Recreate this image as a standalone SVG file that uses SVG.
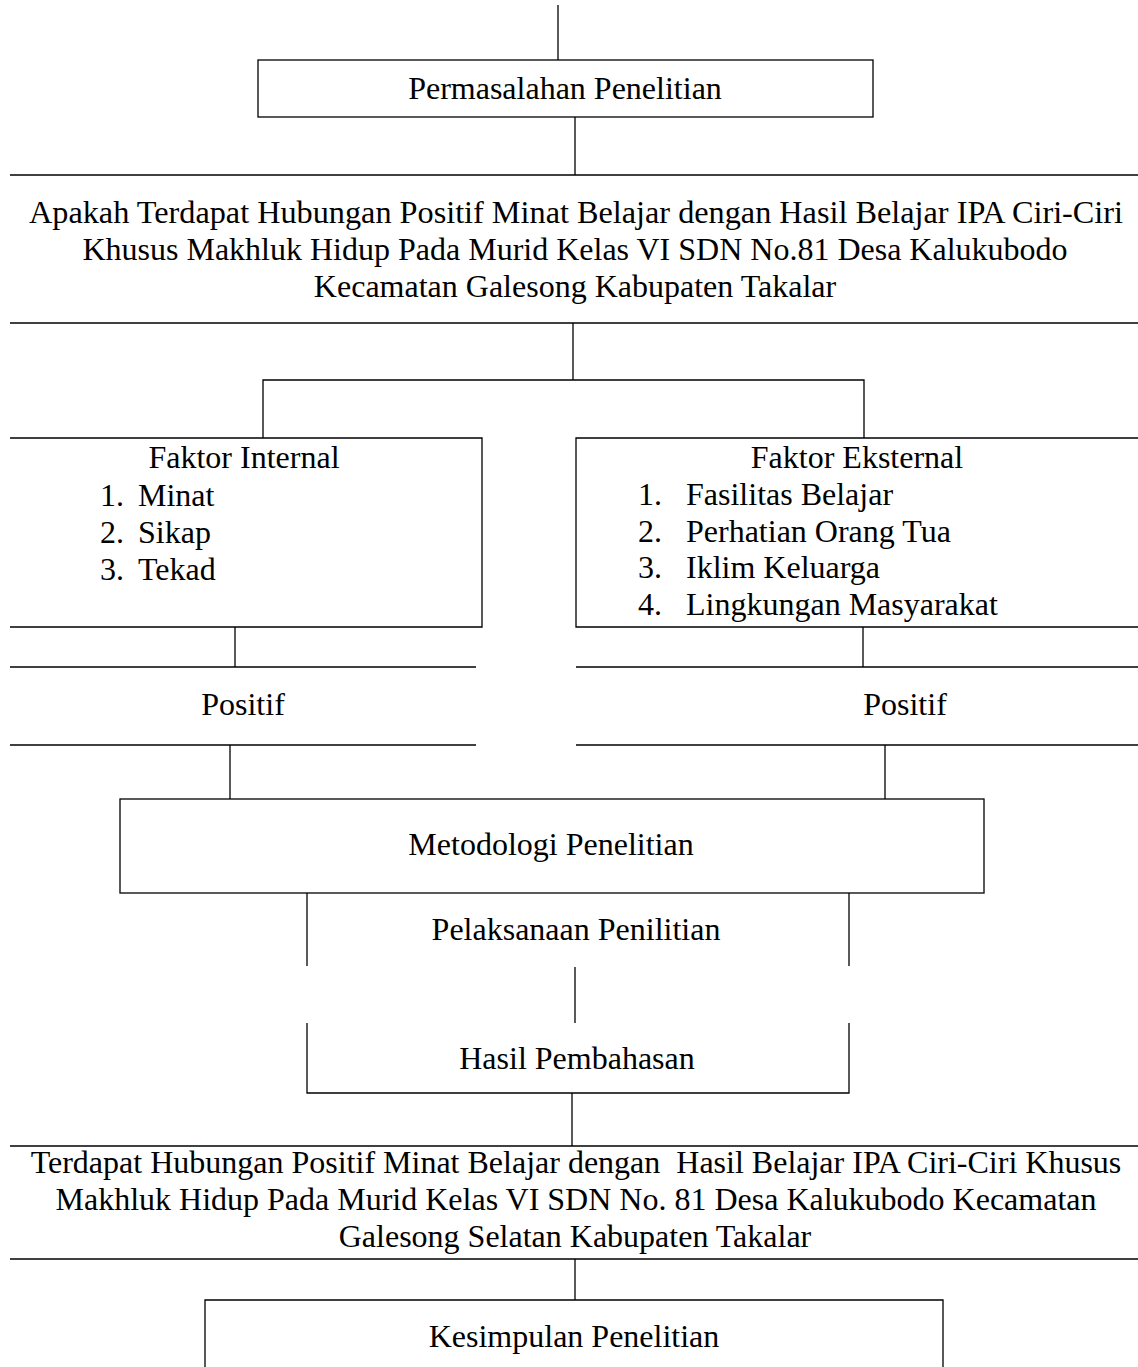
<svg xmlns="http://www.w3.org/2000/svg" width="1138" height="1367" viewBox="0 0 1138 1367">
<style>
text{font-family:"Liberation Serif","Times New Roman",serif;font-size:32px;fill:#000}
.c{text-anchor:middle}
.ln{stroke:#000;stroke-width:1.3;fill:none}
</style>
<rect x="0" y="0" width="1138" height="1367" fill="#fff"/>
<g id="connectors" class="ln">
<line x1="558" y1="5" x2="558" y2="60"/>
<line x1="575" y1="117" x2="575" y2="175"/>
<line x1="573" y1="323" x2="573" y2="380"/>
<polyline points="263,438 263,380 864,380 864,438"/>
<line x1="235" y1="627" x2="235" y2="667"/>
<line x1="863" y1="627" x2="863" y2="667"/>
<line x1="230" y1="745" x2="230" y2="799"/>
<line x1="885" y1="745" x2="885" y2="799"/>
<line x1="575" y1="967" x2="575" y2="1023"/>
<line x1="572" y1="1093" x2="572" y2="1146"/>
<line x1="575" y1="1259" x2="575" y2="1300"/>
</g>
<g id="permasalahan">
<rect class="ln" x="258" y="60" width="615" height="57"/>
<text class="c" x="565" y="99">Permasalahan Penelitian</text>
</g>
<g id="pertanyaan">
<line class="ln" x1="10" y1="175" x2="1138" y2="175"/>
<text class="c" x="576" y="223" textLength="1094" lengthAdjust="spacingAndGlyphs">Apakah Terdapat Hubungan Positif Minat Belajar dengan Hasil Belajar IPA Ciri-Ciri</text>
<text class="c" x="575" y="260">Khusus Makhluk Hidup Pada Murid Kelas VI SDN No.81 Desa Kalukubodo</text>
<text class="c" x="575" y="297">Kecamatan Galesong Kabupaten Takalar</text>
<line class="ln" x1="10" y1="323" x2="1138" y2="323"/>
</g>
<g id="faktor-internal">
<polyline class="ln" points="10,438 482,438 482,627 10,627"/>
<text class="c" x="244" y="468">Faktor Internal</text>
<text x="100" y="506">1.</text><text x="138" y="506">Minat</text>
<text x="100" y="543">2.</text><text x="138" y="543">Sikap</text>
<text x="100" y="580">3.</text><text x="138" y="580">Tekad</text>
</g>
<g id="faktor-eksternal">
<polyline class="ln" points="1138,438 576,438 576,627 1138,627"/>
<text class="c" x="857" y="468">Faktor Eksternal</text>
<text x="638" y="505">1.</text><text x="686" y="505">Fasilitas Belajar</text>
<text x="638" y="542">2.</text><text x="686" y="542">Perhatian Orang Tua</text>
<text x="638" y="578">3.</text><text x="686" y="578">Iklim Keluarga</text>
<text x="638" y="615">4.</text><text x="686" y="615">Lingkungan Masyarakat</text>
</g>
<g id="positif-kiri">
<line class="ln" x1="10" y1="667" x2="476" y2="667"/>
<text class="c" x="243" y="715">Positif</text>
<line class="ln" x1="10" y1="745" x2="476" y2="745"/>
</g>
<g id="positif-kanan">
<line class="ln" x1="576" y1="667" x2="1138" y2="667"/>
<text class="c" x="905" y="715">Positif</text>
<line class="ln" x1="576" y1="745" x2="1138" y2="745"/>
</g>
<g id="metodologi">
<rect class="ln" x="120" y="799" width="864" height="94"/>
<text class="c" x="551" y="855">Metodologi Penelitian</text>
</g>
<g id="pelaksanaan">
<line class="ln" x1="307" y1="893" x2="307" y2="966"/>
<line class="ln" x1="849" y1="893" x2="849" y2="966"/>
<text class="c" x="576" y="940">Pelaksanaan Penilitian</text>
</g>
<g id="hasil-pembahasan">
<polyline class="ln" points="307,1023 307,1093 849,1093 849,1023"/>
<text class="c" x="577" y="1069">Hasil Pembahasan</text>
</g>
<g id="temuan">
<line class="ln" x1="10" y1="1146" x2="1138" y2="1146"/>
<text class="c" x="576" y="1173" xml:space="preserve">Terdapat Hubungan Positif Minat Belajar dengan  Hasil Belajar IPA Ciri-Ciri Khusus</text>
<text class="c" x="576" y="1210">Makhluk Hidup Pada Murid Kelas VI SDN No. 81 Desa Kalukubodo Kecamatan</text>
<text class="c" x="575" y="1247">Galesong Selatan Kabupaten Takalar</text>
<line class="ln" x1="10" y1="1259" x2="1138" y2="1259"/>
</g>
<g id="kesimpulan">
<polyline class="ln" points="205,1370 205,1300 943,1300 943,1370"/>
<text class="c" x="574" y="1347">Kesimpulan Penelitian</text>
</g>
</svg>
